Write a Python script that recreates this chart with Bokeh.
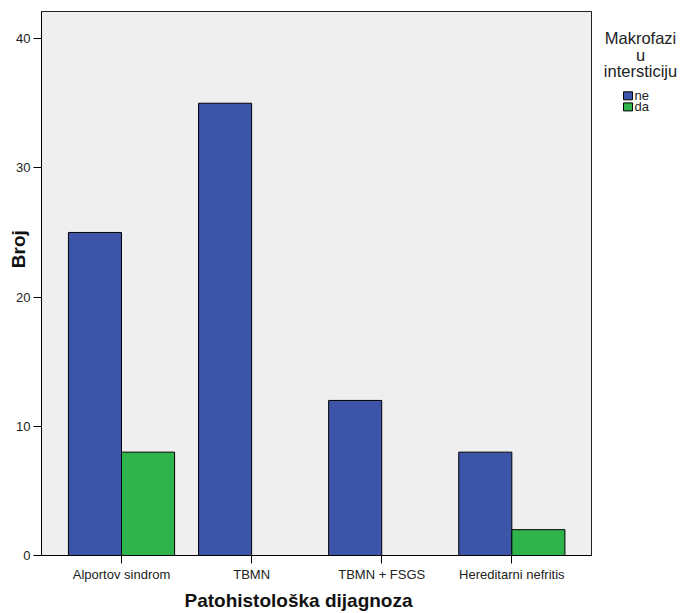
import math
from bokeh.plotting import figure
from bokeh.layouts import row
from bokeh.models import Range1d, FixedTicker, ColumnDataSource
from bokeh.core.properties import value
from bokeh.embed import file_html
from bokeh.resources import INLINE

categories = ["Alportov sindrom", "TBMN", "TBMN + FSGS", "Hereditarni nefritis"]
ne_values = [25, 35, 12, 8]
da_values = [8, 0, 0, 2]
series_names = ["ne", "da"]
series_colors = ["#3d55a8", "#2fb44b"]
legend_title = ["Makrofazi", "u", "intersticiju"]
y_ticks = [0, 10, 20, 30, 40]

FONT = "Liberation Sans"
H = 613
NBSP = "\u00a0"

p = figure(width=592, height=H, output_backend="svg", toolbar_location=None,
           x_range=Range1d(-0.615, 3.62), y_range=Range1d(0, 42.1),
           min_border_left=41, min_border_right=0, min_border_top=11, min_border_bottom=10)

xs = list(range(len(categories)))
bw = 0.408
src = ColumnDataSource(dict(x_ne=[x - bw / 2 for x in xs], x_da=[x + bw / 2 for x in xs],
                            ne=ne_values, da=da_values))
p.vbar(x="x_ne", top="ne", width=bw, source=src, fill_color=series_colors[0], line_color="black", line_width=1)
p.vbar(x="x_da", top="da", width=bw, source=src, fill_color=series_colors[1], line_color="black", line_width=1)

p.background_fill_color = "#efefef"
p.border_fill_color = "white"
p.outline_line_color = "#222222"
p.outline_line_width = 1
p.xgrid.visible = False
p.ygrid.visible = False

p.xaxis.ticker = FixedTicker(ticks=xs)
p.xaxis.major_label_overrides = {i: c for i, c in enumerate(categories)}
p.yaxis.ticker = FixedTicker(ticks=y_ticks)
for ax in (p.xaxis, p.yaxis):
    ax.major_tick_out = 8
    ax.major_tick_in = 0
    ax.minor_tick_line_color = None
    ax.axis_line_color = "black"
    ax.major_tick_line_color = "black"
    ax.major_label_text_font = FONT
    ax.major_label_text_font_size = "13px"
    ax.major_label_text_color = "#222222"
    ax.major_label_standoff = 3

# trailing / leading no-break spaces shift the titles to where the reference has them
p.xaxis.axis_label = "Patohistološka dijagnoza" + NBSP * 7
p.xaxis.axis_label_standoff = 5
p.yaxis.axis_label = NBSP * 13 + "Broj"
p.yaxis.axis_label_standoff = -16
for ax in (p.xaxis, p.yaxis):
    ax.axis_label_text_font = FONT
    ax.axis_label_text_font_style = "bold"
    ax.axis_label_text_font_size = "19px"
    ax.axis_label_text_color = "#111111"

# legend panel as a separate small figure in pixel coordinates
lg = figure(width=91, height=H, output_backend="svg", toolbar_location=None,
            x_range=Range1d(0, 91), y_range=Range1d(H, 0),
            min_border=0, outline_line_color=None)
lg.axis.visible = False
lg.grid.visible = False
lg.background_fill_color = "white"
lg.border_fill_color = "white"

lg.text(x=[48, 48, 48], y=[30, 49, 67], text=legend_title,
        text_font=value(FONT), text_font_size="16.5px", text_color="#222222",
        text_align="center", text_baseline="middle")
lg.rect(x=[35.5, 35.5], y=[95, 107.5], width=9, height=9,
        fill_color=series_colors, line_color="black", line_width=1)
lg.text(x=[42, 42], y=[95, 107.5], text=series_names,
        text_font=value(FONT), text_font_size="13px", text_color="#222222",
        text_align="left", text_baseline="middle")

layout = row(p, lg, spacing=0)
open("out.html", "w").write(file_html(layout, INLINE))
